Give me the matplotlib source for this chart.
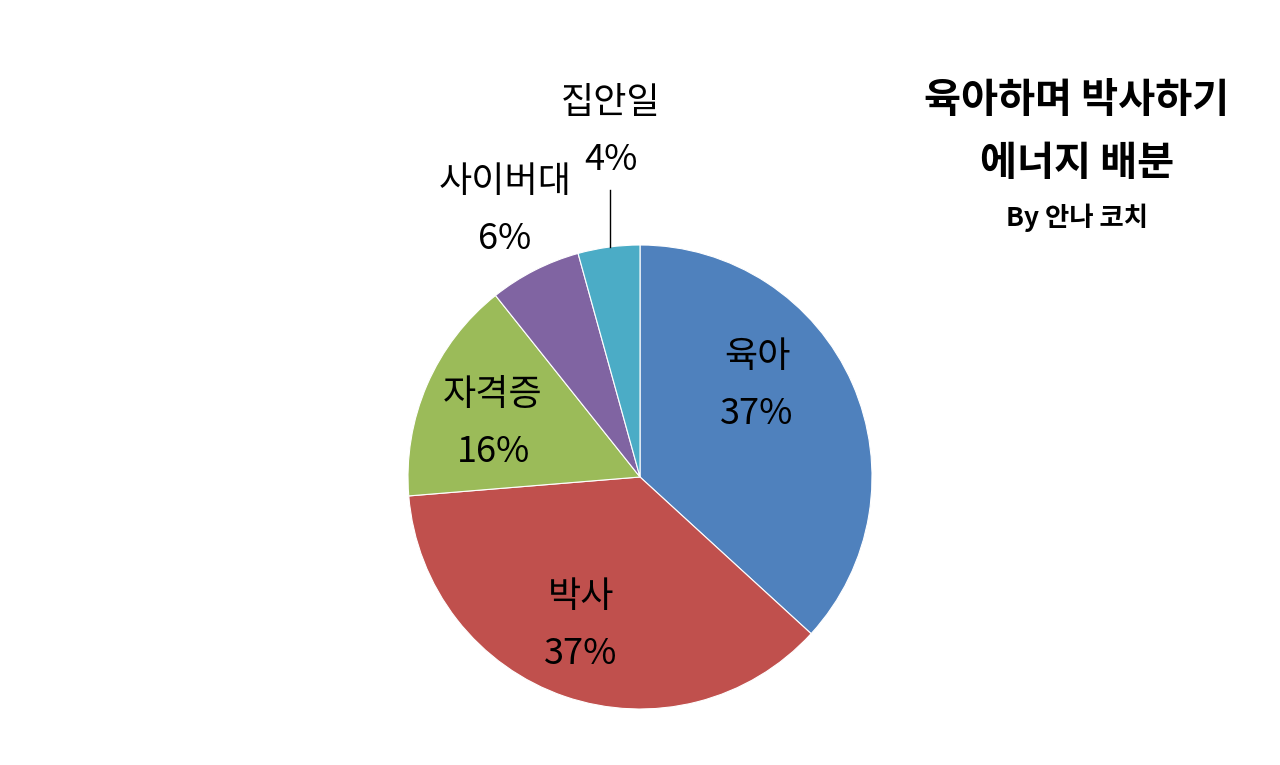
import matplotlib
matplotlib.use("Agg")
import matplotlib.pyplot as plt

plt.rcParams['font.family'] = ['Noto Sans CJK KR', 'DejaVu Sans']

categories = ['육아', '박사', '자격증', '사이버대', '집안일']
values = [36.8, 36.9, 15.6, 6.4, 4.3]
colors = ['#4F81BD', '#C0504D', '#9BBB59', '#8064A2', '#4BACC6']
title_lines = ['육아하며 박사하기', '에너지 배분']
subtitle = 'By 안나 코치'

W, H = 1280, 765
fig = plt.figure(figsize=(W / 100, H / 100), dpi=100)
ax = fig.add_axes([0, 0, 1, 1])

cx, cy_img, r = 640, 477, 232
ax.pie(values, colors=colors, startangle=90, counterclock=False,
       center=(cx, H - cy_img), radius=r, frame=True,
       wedgeprops=dict(edgecolor='white', linewidth=0.8))
ax.set_xlim(0, W)
ax.set_ylim(0, H)
ax.set_aspect('equal')
ax.axis('off')

# label anchor positions (image pixel coords of category name line)
label_pos = [(757, 357), (581, 597), (493, 395), (505, 182), (611, 103)]
line_gap = 57
total = sum(values)
for name, v, (lx, ly) in zip(categories, values, label_pos):
    pct = f"{int(v / total * 100 + 0.5)}%"
    ax.text(lx, H - ly, name, ha='center', va='center', fontsize=26, color='black')
    ax.text(lx, H - (ly + line_gap), pct, ha='center', va='center', fontsize=26, color='black')

# leader line for the smallest slice
ax.plot([610, 610], [H - 190, H - 247], color='black', linewidth=1)

ax.text(1077, H - 100, title_lines[0], ha='center', va='center', fontsize=29, fontweight='bold')
ax.text(1077, H - 163, title_lines[1], ha='center', va='center', fontsize=29, fontweight='bold')
ax.text(1077, H - 218, subtitle, ha='center', va='center', fontsize=19, fontweight='bold')

fig.savefig('out.png', dpi=100, facecolor='white')
